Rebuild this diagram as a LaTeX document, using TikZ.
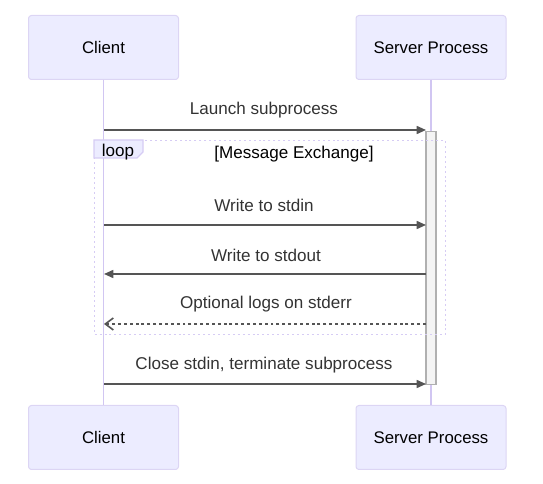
\documentclass[tikz,border=0pt]{standalone}
\usepackage{fontspec}
\setmainfont{Liberation Sans}
\usetikzlibrary{arrows.meta,calc}
\definecolor{actfill}{HTML}{ECECFF}
\definecolor{actdraw}{HTML}{DCD5F4}
\definecolor{lifeline}{HTML}{D1C6F2}
\definecolor{msgline}{HTML}{555555}
\definecolor{txt}{HTML}{333333}
\definecolor{actvfill}{HTML}{F4F4F4}
\definecolor{actvdraw}{HTML}{B0B0B0}
\definecolor{loopdraw}{HTML}{D6CCF4}
\tikzset{
  actor/.style={draw=actdraw, fill=actfill, rounded corners=2.2pt, line width=0.75pt,
    minimum width=112.5pt, minimum height=48pt, inner sep=0pt, text=black, font=\fontsize{12.6}{14}\selectfont},
  msg/.style={draw=msgline, line width=1.2pt, -{Triangle[length=7pt,width=6pt]}},
  msgdot/.style={draw=msgline, line width=1.2pt, dash pattern=on 2.2pt off 2.2pt, -{Straight Barb[length=6pt,width=9pt,line width=1.2pt]}},
  mlabel/.style={text=txt, font=\fontsize{12.8}{14}\selectfont, inner sep=0pt},
  life/.style={draw=lifeline, line width=1.1pt},
}
\begin{document}
\begin{tikzpicture}[x=0.75pt,y=-0.75pt]
\useasboundingbox (0,0) rectangle (543,484);
% participants
\node[actor] (ct) at (103.5,47.5) {Client};
\node[actor] (st) at (431,47.5) {Server Process};
\node[actor] (cb) at (103.5,437.5) {Client};
\node[actor] (sb) at (431,437.5) {Server Process};
% lifelines
\draw[life] (ct.south) -- (cb.north);
\draw[life] (st.south) -- (sb.north);
% activation
\node[draw=actvdraw, fill=actvfill, line width=0.9pt, minimum width=7.5pt, minimum height=189.75pt, inner sep=0pt, anchor=north] (act) at (431,131) {};
% loop frame
\node[draw=loopdraw, line width=1pt, dash pattern=on 1.5pt off 2.2pt, minimum width=263.25pt, minimum height=145.5pt, inner sep=0pt, anchor=north west] (loop) at (94,140) {};
\draw[draw=loopdraw, fill=actfill, line width=1pt] (94,140) -- (143,140) -- (143,152) -- (137,158) -- (94,158) -- cycle;
\node[mlabel, text=black] (looplbl) at (118,152) {loop};
\node[mlabel, text=black] (cond) at (294,154) {[Message Exchange]};
% message endpoints
\coordinate (c1) at (104,130); \coordinate (s1) at (426,130);
\coordinate (c2) at (104,225); \coordinate (s2) at (426,225);
\coordinate (c3) at (104,274); \coordinate (s3) at (426,274);
\coordinate (c4) at (104,324); \coordinate (s4) at (426,324);
\coordinate (c5) at (104,384); \coordinate (s5) at (426,384);
\draw[msg] (c1) -- (s1);
\node[mlabel] (l1) at (264,110) {Launch subprocess};
\draw[msg] (c2) -- (s2);
\node[mlabel] (l2) at (264,205) {Write to stdin};
\draw[msg] (s3) -- (c3);
\node[mlabel] (l3) at (266,255) {Write to stdout};
\draw[msgdot] (s4) -- (c4);
\node[mlabel] (l4) at (266,304) {Optional logs on stderr};
\draw[msg] (c5) -- (s5);
\node[mlabel] (l5) at (264,365) {Close stdin, terminate subprocess};
\end{tikzpicture}
\end{document}
